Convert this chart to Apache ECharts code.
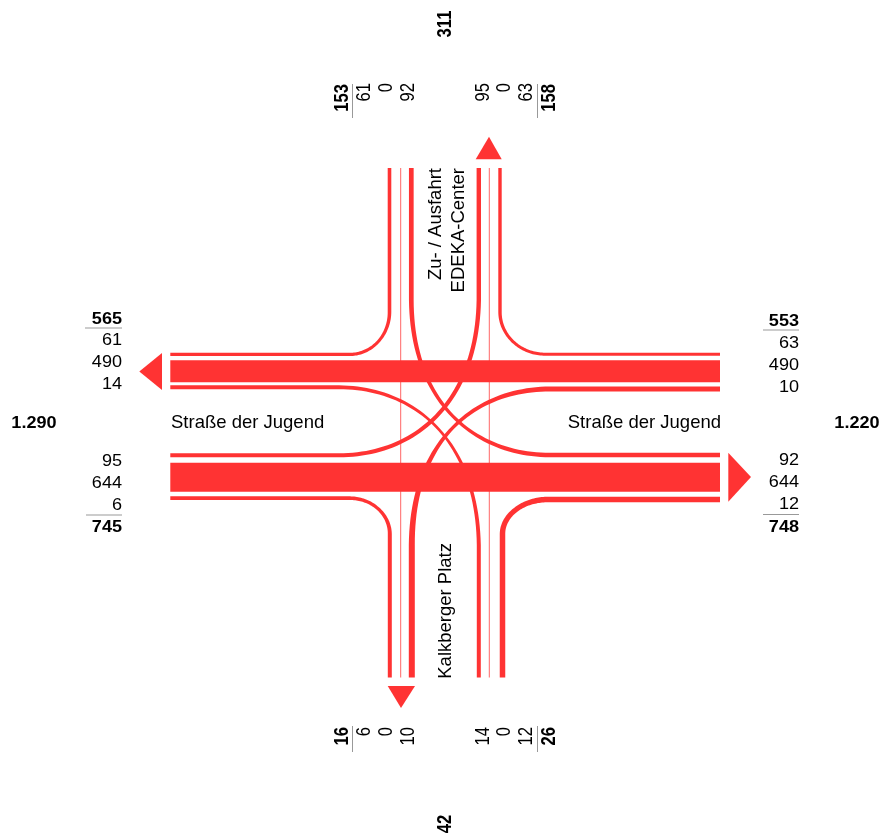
<!DOCTYPE html>
<html><head><meta charset="utf-8">
<style>html,body{margin:0;padding:0;background:#fff}#c{width:882px;height:836px}</style>
<script src="https://cdn.jsdelivr.net/npm/echarts@6/dist/echarts.min.js"></script>
</head><body><div id="c"></div>
<script>
// ---- values ----
const westOut = [61, 490, 14];   const westOutTotal = 565;
const westIn  = [95, 644, 6];    const westInTotal  = 745;
const eastIn  = [63, 490, 10];   const eastInTotal  = 553;
const eastOut = [92, 644, 12];   const eastOutTotal = 748;
const northIn  = [61, 0, 92];    const northInTotal  = 153;
const northOut = [95, 0, 63];    const northOutTotal = 158;
const southOut = [6, 0, 10];     const southOutTotal = 16;
const southIn  = [14, 0, 12];    const southInTotal  = 26;
const westTotal = '1.290', eastTotal = '1.220', northTotal = '311', southTotal = '42';
const roadWest = 'Straße der Jugend', roadEast = 'Straße der Jugend';
const roadNorth = ['Zu- / Ausfahrt', 'EDEKA-Center'], roadSouth = 'Kalkberger Platz';

// ---- layout (axis units = pixels of the diagram) ----
const RED = '#ff3333', INK = '#000', RULE = '#999';
const PX_PER_VEHICLE = 0.045;
const WEST_END = 170.3, EAST_END = 720, NORTH_END = 168, SOUTH_END = 677.5;
const laneY = {nw: 354.4, ne: 354.2, w3: 387.3, e3: 389, w4: 455.3, e4: 455, sw: 498.2, se: 499.5};
const laneX = {n1: 389.5, n3: 411.3, n5: 478.8, n7: 500, s1: 389.8, s3: 411.8, s5: 478.8, s7: 502.5};
const FONT = '16.6px "Liberation Sans", Arial, sans-serif';
const BOLD = 'bold 16.6px "Liberation Sans", Arial, sans-serif';
const ROAD = '18.5px "Liberation Sans", Arial, sans-serif';
const STRETCH_FLAT = 1.09, STRETCH_UP = 1.17;

function corner(a, c, b) { // bezier control points rounding corner c
  const k = 0.55;
  return [a, [a[0]+(c[0]-a[0])*k, a[1]+(c[1]-a[1])*k], [b[0]+(c[0]-b[0])*k, b[1]+(c[1]-b[1])*k], b];
}
// turning movements: road end, bezier, road end, widths at [start, middle, end]
const turnLanes = [
  {v: northIn[0], a: [WEST_END, laneY.nw], b: [laneX.n1, NORTH_END], w: [3.3, 3, 3.6],
   c: corner([350, laneY.nw], [laneX.n1, laneY.nw], [laneX.n1, 312])},
  {v: northOut[2], a: [EAST_END, laneY.ne], b: [laneX.n7, NORTH_END], w: [3, 3, 3.4],
   c: corner([545, laneY.ne], [laneX.n7, laneY.ne], [laneX.n7, 312])},
  {v: southOut[0], a: [WEST_END, laneY.sw], b: [laneX.s1, SOUTH_END], w: [3.7, 3.2, 4],
   c: corner([350, laneY.sw], [laneX.s1, laneY.sw], [laneX.s1, 534])},
  {v: southIn[2], a: [EAST_END, laneY.se], b: [laneX.s7, SOUTH_END], w: [5.6, 5, 5.5],
   c: corner([548, laneY.se], [laneX.s7, laneY.se], [laneX.s7, 534])},
  {v: eastIn[2], a: [EAST_END, laneY.e3], b: [laneX.s3, SOUTH_END], w: [5, 3.4, 6],
   c: [[550, laneY.e3], [475, laneY.e3], [412, 440], [laneX.s3, 545]]},
  {v: eastOut[0], a: [EAST_END, laneY.e4], b: [laneX.n3, NORTH_END], w: [4.6, 3.2, 4.7],
   c: [[550, laneY.e4], [475, laneY.e4], [412, 403], [laneX.n3, 300]]},
  {v: westOut[2], a: [WEST_END, laneY.w3], b: [laneX.s5, SOUTH_END], w: [4, 2.6, 4],
   c: [[339, laneY.w3], [414, laneY.w3], [477, 440], [laneX.s5, 545]]},
  {v: westIn[0], a: [WEST_END, laneY.w4], b: [laneX.n5, NORTH_END], w: [4, 4, 4.4],
   c: [[339, laneY.w4], [414, laneY.w4], [477, 403], [laneX.n5, 300]]}
];
const throughBands = [
  {v: westOut[1], y: 371.2},
  {v: westIn[1], y: 477.2}
];
const emptyLanes = [
  {v: northIn[1], x: 400.7},
  {v: northOut[1], x: 489.3}
];
const arrows = [
  [[139.3, 371.5], [162, 353], [162, 390]],
  [[751, 477], [728.3, 452.7], [728.3, 501.7]],
  [[489, 136.7], [475.7, 159.3], [501.7, 159.3]],
  [[401, 708], [387.7, 686], [415, 686]]
];
const rules = [
  [[85, 328], [122, 328]], [[86, 515], [122, 515]],
  [[763, 330], [799, 330]], [[763, 514.5], [799, 514.5]],
  [[352.5, 84], [352.5, 118]], [[537.5, 84], [537.5, 118]],
  [[352.5, 726], [352.5, 752]], [[537.5, 726], [537.5, 752]]
];
const UP = Math.PI / 2;
const t = (s, x, y, align, rot, font, stretch) => ({s: String(s), x, y, align, rot: rot || 0, font: font || FONT,
  stretch: stretch === undefined ? (rot ? STRETCH_UP : STRETCH_FLAT) : stretch});
const labels = [
  t(westOutTotal, 122, 319, 'right', 0, BOLD), t(westOut[0], 122, 340.5, 'right'), t(westOut[1], 122, 362.5, 'right'), t(westOut[2], 122, 384.5, 'right'),
  t(westIn[0], 122, 461, 'right'), t(westIn[1], 122, 483, 'right'), t(westIn[2], 122, 505, 'right'), t(westInTotal, 122, 527.5, 'right', 0, BOLD),
  t(eastInTotal, 799, 321.5, 'right', 0, BOLD), t(eastIn[0], 799, 343, 'right'), t(eastIn[1], 799, 365, 'right'), t(eastIn[2], 799, 387, 'right'),
  t(eastOut[0], 799, 460.5, 'right'), t(eastOut[1], 799, 482.5, 'right'), t(eastOut[2], 799, 504.5, 'right'), t(eastOutTotal, 799, 527, 'right', 0, BOLD),
  t(northInTotal, 343, 84, 'right', UP, BOLD), t(northIn[0], 365, 83, 'right', UP), t(northIn[1], 387, 83, 'right', UP), t(northIn[2], 409, 83, 'right', UP),
  t(northOut[0], 483.5, 83, 'right', UP), t(northOut[1], 505, 83, 'right', UP), t(northOut[2], 527, 83, 'right', UP), t(northOutTotal, 549.5, 84, 'right', UP, BOLD),
  t(southOutTotal, 343, 727, 'right', UP, BOLD), t(southOut[0], 365, 727, 'right', UP), t(southOut[1], 387, 727, 'right', UP), t(southOut[2], 409, 727, 'right', UP),
  t(southIn[0], 483.5, 727, 'right', UP), t(southIn[1], 505, 727, 'right', UP), t(southIn[2], 527, 727, 'right', UP), t(southInTotal, 549.5, 727, 'right', UP, BOLD),
  t(westTotal, 34, 423, 'center', 0, BOLD), t(eastTotal, 857, 423, 'center', 0, BOLD),
  t(northTotal, 446, 24, 'center', UP, BOLD), t(southTotal, 446, 824, 'center', UP, BOLD),
  t(roadWest, 171, 423, 'left', 0, ROAD, 1), t(roadEast, 721, 423, 'right', 0, ROAD, 1),
  t(roadNorth[0], 435.5, 168, 'right', UP, ROAD, 1), t(roadNorth[1], 458.5, 168, 'right', UP, ROAD, 1), t(roadSouth, 445.5, 543, 'right', UP, ROAD, 1)
];

// ---- geometry helpers ----
function bez(c, u) {
  const v = 1 - u, a = v*v*v, b = 3*v*v*u, d = 3*v*u*u, e = u*u*u;
  return [a*c[0][0]+b*c[1][0]+d*c[2][0]+e*c[3][0], a*c[0][1]+b*c[1][1]+d*c[2][1]+e*c[3][1]];
}
function lanePolygon(l, api) {
  const pts = [[...l.a, l.w[0]]];
  const N = 48;
  for (let i = 0; i <= N; i++) {
    const u = i / N, p = bez(l.c, u);
    const w = u < .5 ? l.w[0] + (l.w[1]-l.w[0]) * u * 2 : l.w[1] + (l.w[2]-l.w[1]) * (u-.5) * 2;
    pts.push([p[0], p[1], w]);
  }
  pts.push([...l.b, l.w[2]]);
  const left = [], right = [];
  pts.forEach((p, i) => {
    const q0 = pts[Math.max(0, i-1)], q1 = pts[Math.min(pts.length-1, i+1)];
    let dx = q1[0]-q0[0], dy = q1[1]-q0[1]; const n = Math.hypot(dx, dy) || 1; dx /= n; dy /= n;
    left.push(api.coord([p[0]-dy*p[2]/2, p[1]+dx*p[2]/2]));
    right.push(api.coord([p[0]+dy*p[2]/2, p[1]-dx*p[2]/2]));
  });
  return left.concat(right.reverse());
}
const idx = a => a.map((_, i) => i);
const custom = (list, renderItem) => ({type: 'custom', coordinateSystem: 'cartesian2d', clip: false, silent: true,
  animation: false, data: idx(list).map(i => [i]), encode: {x: 0, y: 0}, renderItem});

const chart = echarts.init(document.getElementById('c'), null, {renderer: 'canvas'});
chart.setOption({
  animation: false,
  backgroundColor: '#fff',
  grid: {left: 0, right: 0, top: 0, bottom: 0},
  xAxis: {type: 'value', min: 0, max: 882, show: false},
  yAxis: {type: 'value', min: 0, max: 836, inverse: true, show: false},
  tooltip: {show: false},
  series: [
    custom(turnLanes, (p, api) => ({type: 'polygon', shape: {points: lanePolygon(turnLanes[p.dataIndex], api)}, style: {fill: RED}})),
    custom(emptyLanes, (p, api) => {
      const a = api.coord([emptyLanes[p.dataIndex].x, NORTH_END]), b = api.coord([emptyLanes[p.dataIndex].x, SOUTH_END]);
      return {type: 'line', shape: {x1: a[0], y1: a[1], x2: b[0], y2: b[1]}, style: {stroke: RED, lineWidth: 1, opacity: .75}};
    }),
    custom(throughBands, (p, api) => {
      const b = throughBands[p.dataIndex], h = b.v * PX_PER_VEHICLE;
      const a = api.coord([WEST_END, b.y - h/2]), c = api.coord([EAST_END, b.y + h/2]);
      return {type: 'rect', shape: {x: a[0], y: a[1], width: c[0]-a[0], height: c[1]-a[1]}, style: {fill: RED}};
    }),
    custom(arrows, (p, api) => ({type: 'polygon', shape: {points: arrows[p.dataIndex].map(q => api.coord(q))}, style: {fill: RED}})),
    custom(rules, (p, api) => {
      const a = api.coord(rules[p.dataIndex][0]), b = api.coord(rules[p.dataIndex][1]);
      return {type: 'line', shape: {x1: a[0], y1: a[1], x2: b[0], y2: b[1]}, style: {stroke: RULE, lineWidth: 1}};
    }),
    custom(labels, (p, api) => {
      const l = labels[p.dataIndex], c = api.coord([l.x, l.y]);
      return {type: 'text', x: c[0], y: c[1], rotation: l.rot,
        scaleX: l.rot ? 1 : l.stretch, scaleY: l.rot ? l.stretch : 1,
        style: {text: l.s, x: 0, y: 0, fill: INK, font: l.font, align: l.align, verticalAlign: 'middle'}};
    })
  ]
});
</script></body></html>
